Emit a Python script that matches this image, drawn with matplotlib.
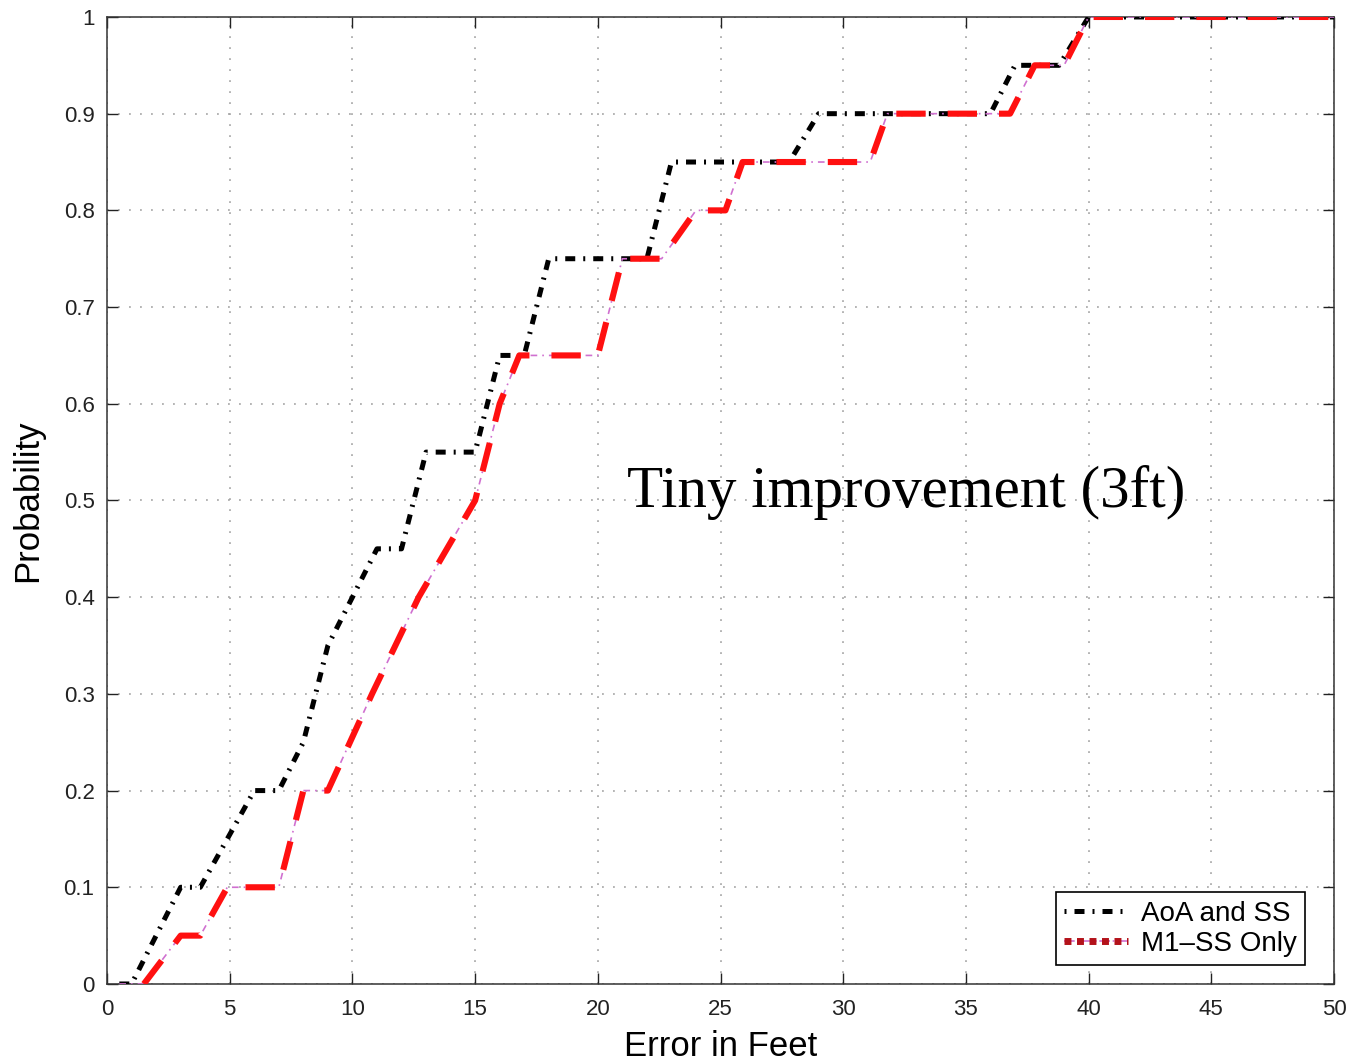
import matplotlib
matplotlib.use("Agg")
import matplotlib.pyplot as plt
from matplotlib.lines import Line2D

# CDF points
aoa_x = [0.5, 1, 3, 3.8, 6, 7, 8, 9, 10, 11, 12, 13, 15, 16, 17, 18, 22, 23,
         27.8, 29, 36, 37, 38.8, 40, 50]
aoa_y = [0, 0, 0.1, 0.1, 0.2, 0.2, 0.25, 0.35, 0.4, 0.45, 0.45, 0.55, 0.55,
         0.65, 0.65, 0.75, 0.75, 0.85, 0.85, 0.9, 0.9, 0.95, 0.95, 1, 1]

m1_x = [0.5, 1.5, 3, 3.8, 4.9, 7, 8, 9, 10.8, 12.7, 15, 16, 16.8, 20, 21,
        22.6, 24, 25.2, 25.9, 31.1, 31.8, 36.8, 37.8, 39, 40, 50]
m1_y = [0, 0, 0.05, 0.05, 0.1, 0.1, 0.2, 0.2, 0.3, 0.4, 0.5, 0.6, 0.65, 0.65,
        0.75, 0.75, 0.8, 0.8, 0.85, 0.85, 0.9, 0.9, 0.95, 0.95, 1, 1]

labels = ["AoA and SS", "M1\u2013SS Only"]
x_ticks = list(range(0, 51, 5))
y_ticks = [round(0.1 * i, 1) for i in range(11)]
y_ticklabels = ["0"] + ["%.1f" % v for v in y_ticks[1:-1]] + ["1"]

plt.rcParams["font.family"] = ["Liberation Sans", "DejaVu Sans"]

fig = plt.figure(figsize=(13.55, 10.61), dpi=100)
ax = fig.add_axes([0.079, 0.0726, 0.9055, 0.9114])

black_ls = (0, (2.0, 1.6, 0.4, 1.6))
ax.plot(aoa_x, aoa_y, color="black", lw=3.6, linestyle=black_ls,
        solid_capstyle="butt", dash_capstyle="butt", zorder=3)

magenta = "#d070d0"
ax.plot(m1_x, m1_y, color=magenta, lw=1.2, linestyle=(0, (4, 3, 1, 3)), zorder=4)
ax.plot(m1_x[1:], m1_y[1:], color="#ff1010", lw=4.4, linestyle=(0, (4.8, 3.6)),
        dash_capstyle="butt", zorder=5)

ax.set_xlim(0, 50)
ax.set_ylim(0, 1)
ax.set_xticks(x_ticks)
ax.set_yticks(y_ticks)
ax.set_yticklabels(y_ticklabels)
ax.tick_params(direction="in", length=8, width=1, labelsize=16, pad=9,
               top=True, right=True, colors="#222222")
ax.tick_params(axis="x", pad=11)
ax.grid(True, color="#a0a0a0", linestyle=(0, (1.2, 6)), lw=1.1)
for s in ax.spines.values():
    s.set_linewidth(1.1)
    s.set_color("#333333")

ax.set_xlabel("Error in Feet", fontsize=25, labelpad=7)
ax.set_ylabel("Probability", fontsize=25, labelpad=14)

ax.text(21.2, 0.508, "Tiny improvement (3ft)", fontsize=42.5,
        family=["Liberation Serif", "DejaVu Serif"], va="center", ha="left")

h_black = Line2D([], [], color="black", lw=3.6, linestyle=(0, (0.4, 1.6, 2.0, 1.6)),
                 dash_capstyle="butt")
h_mag = Line2D([], [], color=magenta, lw=1.2, linestyle="-.")
h_red = Line2D([], [], color="#b3121a", lw=5, linestyle=(0, (1, 0.8)),
               dash_capstyle="butt")
leg = ax.legend([h_black, (h_mag, h_red)], labels, loc="lower right",
                bbox_to_anchor=(0.9764, 0.0196), borderaxespad=0,
                fontsize=20, handlelength=2.3, handletextpad=0.45,
                labelspacing=0.15, borderpad=0.3, fancybox=False,
                framealpha=1, edgecolor="black")
leg.get_frame().set_linewidth(1.2)

fig.savefig("out.png", dpi=100)
